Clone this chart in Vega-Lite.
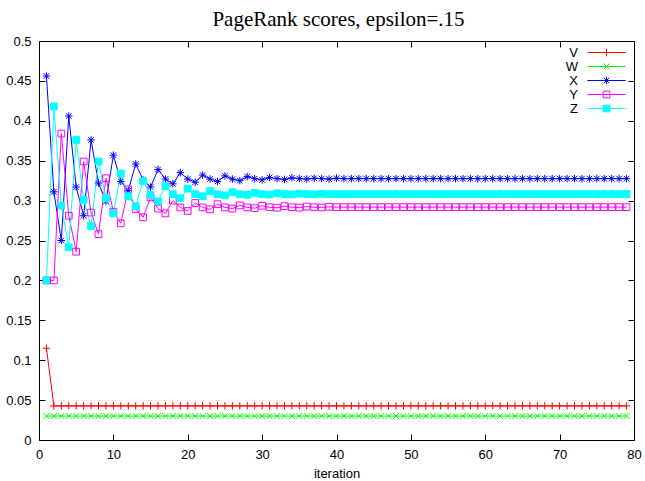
{
  "$schema": "https://vega.github.io/schema/vega-lite/v6.json",
  "width": 595,
  "height": 399,
  "autosize": {"type": "none"},
  "padding": {"left": 39, "top": 41, "right": 11, "bottom": 41},
  "background": "white",
  "title": {"text": "PageRank scores, epsilon=.15", "font": "Liberation Serif", "fontSize": 21, "fontWeight": "normal", "color": "black", "offset": 5, "dx": 2},
  "config": {
    "view": {"stroke": "black", "strokeWidth": 1},
    "axis": {"grid": false, "domain": false, "tickColor": "black", "tickWidth": 1, "labelColor": "black", "labelFont": "Liberation Sans", "labelFontSize": 13, "titleFont": "Liberation Sans", "titleFontSize": 13, "titleFontWeight": "normal", "titleColor": "black"}
  },
  "data": {"values": [
    {"i":1,"V":0.115,"W":0.03,"X":0.456,"Y":0.200,"Z":0.200},
    {"i":2,"V":0.0427,"W":0.03,"X":0.311,"Y":0.200,"Z":0.418},
    {"i":3,"V":0.0427,"W":0.03,"X":0.250,"Y":0.384,"Z":0.294},
    {"i":4,"V":0.0427,"W":0.03,"X":0.406,"Y":0.281,"Z":0.2415},
    {"i":5,"V":0.0427,"W":0.03,"X":0.317,"Y":0.236,"Z":0.376},
    {"i":6,"V":0.0427,"W":0.03,"X":0.281,"Y":0.349,"Z":0.301},
    {"i":7,"V":0.0427,"W":0.03,"X":0.376,"Y":0.285,"Z":0.268},
    {"i":8,"V":0.0427,"W":0.03,"X":0.322,"Y":0.258,"Z":0.349},
    {"i":9,"V":0.0427,"W":0.03,"X":0.299,"Y":0.328,"Z":0.303},
    {"i":10,"V":0.0427,"W":0.03,"X":0.357,"Y":0.286,"Z":0.284},
    {"i":11,"V":0.0427,"W":0.03,"X":0.324,"Y":0.2715,"Z":0.334},
    {"i":12,"V":0.0427,"W":0.03,"X":0.3125,"Y":0.314,"Z":0.3055},
    {"i":13,"V":0.0427,"W":0.03,"X":0.346,"Y":0.2895,"Z":0.293},
    {"i":14,"V":0.0427,"W":0.03,"X":0.326,"Y":0.279,"Z":0.3245},
    {"i":15,"V":0.0427,"W":0.03,"X":0.317,"Y":0.304,"Z":0.307},
    {"i":16,"V":0.0427,"W":0.03,"X":0.339,"Y":0.290,"Z":0.299},
    {"i":17,"V":0.0427,"W":0.03,"X":0.327,"Y":0.284,"Z":0.318},
    {"i":18,"V":0.0427,"W":0.03,"X":0.321,"Y":0.300,"Z":0.308},
    {"i":19,"V":0.0427,"W":0.03,"X":0.335,"Y":0.2915,"Z":0.303},
    {"i":20,"V":0.0427,"W":0.03,"X":0.327,"Y":0.287,"Z":0.315},
    {"i":21,"V":0.0427,"W":0.03,"X":0.323,"Y":0.297,"Z":0.308},
    {"i":22,"V":0.0427,"W":0.03,"X":0.332,"Y":0.2915,"Z":0.3055},
    {"i":23,"V":0.0427,"W":0.03,"X":0.327,"Y":0.289,"Z":0.312},
    {"i":24,"V":0.0427,"W":0.03,"X":0.324,"Y":0.2955,"Z":0.308},
    {"i":25,"V":0.0427,"W":0.03,"X":0.331,"Y":0.2915,"Z":0.3065},
    {"i":26,"V":0.0427,"W":0.03,"X":0.327,"Y":0.290,"Z":0.3105},
    {"i":27,"V":0.0427,"W":0.03,"X":0.325,"Y":0.294,"Z":0.308},
    {"i":28,"V":0.0427,"W":0.03,"X":0.330,"Y":0.2915,"Z":0.3072},
    {"i":29,"V":0.0427,"W":0.03,"X":0.3275,"Y":0.2905,"Z":0.3098},
    {"i":30,"V":0.0427,"W":0.03,"X":0.326,"Y":0.2935,"Z":0.308},
    {"i":31,"V":0.0427,"W":0.03,"X":0.329,"Y":0.2917,"Z":0.3075},
    {"i":32,"V":0.0427,"W":0.03,"X":0.3275,"Y":0.291,"Z":0.3092},
    {"i":33,"V":0.0427,"W":0.03,"X":0.3265,"Y":0.293,"Z":0.3082},
    {"i":34,"V":0.0427,"W":0.03,"X":0.3285,"Y":0.2917,"Z":0.3077},
    {"i":35,"V":0.0427,"W":0.03,"X":0.3275,"Y":0.2912,"Z":0.3088},
    {"i":36,"V":0.0427,"W":0.03,"X":0.327,"Y":0.2925,"Z":0.3082},
    {"i":37,"V":0.0427,"W":0.03,"X":0.328,"Y":0.2917,"Z":0.3079},
    {"i":38,"V":0.0427,"W":0.03,"X":0.3275,"Y":0.2914,"Z":0.3086},
    {"i":39,"V":0.0427,"W":0.03,"X":0.327,"Y":0.2922,"Z":0.3082},
    {"i":40,"V":0.0427,"W":0.03,"X":0.328,"Y":0.2918,"Z":0.3081},
    {"i":41,"V":0.0427,"W":0.03,"X":0.3275,"Y":0.2918,"Z":0.3082},
    {"i":42,"V":0.0427,"W":0.03,"X":0.3275,"Y":0.2918,"Z":0.3082},
    {"i":43,"V":0.0427,"W":0.03,"X":0.3275,"Y":0.2918,"Z":0.3082},
    {"i":44,"V":0.0427,"W":0.03,"X":0.3275,"Y":0.2918,"Z":0.3082},
    {"i":45,"V":0.0427,"W":0.03,"X":0.3275,"Y":0.2918,"Z":0.3082},
    {"i":46,"V":0.0427,"W":0.03,"X":0.3275,"Y":0.2918,"Z":0.3082},
    {"i":47,"V":0.0427,"W":0.03,"X":0.3275,"Y":0.2918,"Z":0.3082},
    {"i":48,"V":0.0427,"W":0.03,"X":0.3275,"Y":0.2918,"Z":0.3082},
    {"i":49,"V":0.0427,"W":0.03,"X":0.3275,"Y":0.2918,"Z":0.3082},
    {"i":50,"V":0.0427,"W":0.03,"X":0.3275,"Y":0.2918,"Z":0.3082},
    {"i":51,"V":0.0427,"W":0.03,"X":0.3275,"Y":0.2918,"Z":0.3082},
    {"i":52,"V":0.0427,"W":0.03,"X":0.3275,"Y":0.2918,"Z":0.3082},
    {"i":53,"V":0.0427,"W":0.03,"X":0.3275,"Y":0.2918,"Z":0.3082},
    {"i":54,"V":0.0427,"W":0.03,"X":0.3275,"Y":0.2918,"Z":0.3082},
    {"i":55,"V":0.0427,"W":0.03,"X":0.3275,"Y":0.2918,"Z":0.3082},
    {"i":56,"V":0.0427,"W":0.03,"X":0.3275,"Y":0.2918,"Z":0.3082},
    {"i":57,"V":0.0427,"W":0.03,"X":0.3275,"Y":0.2918,"Z":0.3082},
    {"i":58,"V":0.0427,"W":0.03,"X":0.3275,"Y":0.2918,"Z":0.3082},
    {"i":59,"V":0.0427,"W":0.03,"X":0.3275,"Y":0.2918,"Z":0.3082},
    {"i":60,"V":0.0427,"W":0.03,"X":0.3275,"Y":0.2918,"Z":0.3082},
    {"i":61,"V":0.0427,"W":0.03,"X":0.3275,"Y":0.2918,"Z":0.3082},
    {"i":62,"V":0.0427,"W":0.03,"X":0.3275,"Y":0.2918,"Z":0.3082},
    {"i":63,"V":0.0427,"W":0.03,"X":0.3275,"Y":0.2918,"Z":0.3082},
    {"i":64,"V":0.0427,"W":0.03,"X":0.3275,"Y":0.2918,"Z":0.3082},
    {"i":65,"V":0.0427,"W":0.03,"X":0.3275,"Y":0.2918,"Z":0.3082},
    {"i":66,"V":0.0427,"W":0.03,"X":0.3275,"Y":0.2918,"Z":0.3082},
    {"i":67,"V":0.0427,"W":0.03,"X":0.3275,"Y":0.2918,"Z":0.3082},
    {"i":68,"V":0.0427,"W":0.03,"X":0.3275,"Y":0.2918,"Z":0.3082},
    {"i":69,"V":0.0427,"W":0.03,"X":0.3275,"Y":0.2918,"Z":0.3082},
    {"i":70,"V":0.0427,"W":0.03,"X":0.3275,"Y":0.2918,"Z":0.3082},
    {"i":71,"V":0.0427,"W":0.03,"X":0.3275,"Y":0.2918,"Z":0.3082},
    {"i":72,"V":0.0427,"W":0.03,"X":0.3275,"Y":0.2918,"Z":0.3082},
    {"i":73,"V":0.0427,"W":0.03,"X":0.3275,"Y":0.2918,"Z":0.3082},
    {"i":74,"V":0.0427,"W":0.03,"X":0.3275,"Y":0.2918,"Z":0.3082},
    {"i":75,"V":0.0427,"W":0.03,"X":0.3275,"Y":0.2918,"Z":0.3082},
    {"i":76,"V":0.0427,"W":0.03,"X":0.3275,"Y":0.2918,"Z":0.3082},
    {"i":77,"V":0.0427,"W":0.03,"X":0.3275,"Y":0.2918,"Z":0.3082},
    {"i":78,"V":0.0427,"W":0.03,"X":0.3275,"Y":0.2918,"Z":0.3082},
    {"i":79,"V":0.0427,"W":0.03,"X":0.3275,"Y":0.2918,"Z":0.3082}
  ]},
  "transform": [{"fold": ["V", "W", "X", "Y", "Z"], "as": ["s", "v"]}],
  "resolve": {"axis": {"x": "independent", "y": "independent"}},
  "layer": [
    {
      "mark": {"type": "line", "strokeWidth": 1, "interpolate": "linear"},
      "encoding": {
        "x": {"field": "i", "type": "quantitative", "scale": {"domain": [0, 80], "nice": false, "zero": false},
              "axis": {"orient": "bottom", "title": "iteration", "values": [0,10,20,30,40,50,60,70,80], "tickSize": -6, "labelPadding": 14, "titlePadding": 6, "labelFlush": false}},
        "y": {"field": "v", "type": "quantitative", "scale": {"domain": [0, 0.5], "nice": false},
              "axis": {"orient": "left", "title": null, "values": [0,0.05,0.1,0.15,0.2,0.25,0.3,0.35,0.4,0.45,0.5], "format": "~g", "tickSize": -6, "labelPadding": 14, "labelFlush": false}},
        "stroke": {"field": "s", "type": "nominal", "scale": {"domain": ["V","W","X","Y","Z"], "range": ["#ff0000","#00ff00","#0000ff","#ff00ff","#00ffff"]},
                   "legend": {"orient": "none", "legendX": 561, "legendY": 5, "title": null, "padding": 0,
                             "labelFont": "Liberation Sans", "labelFontSize": 13, "labelColor": "black", "labelAlign": "right", "labelOffset": -35,
                             "symbolSize": 56, "rowPadding": -0.2, "symbolStrokeWidth": 1,
                             "encode": {"symbols": {"update": {
                               "shape": {"signal": "datum.value==='V' ? 'M-5.1,0L5.1,0M-1,0L1,0M0,-1L0,1' : datum.value==='W' ? 'M-5.1,0L5.1,0M-0.8,-0.8L0.8,0.8M-0.8,0.8L0.8,-0.8' : datum.value==='X' ? 'M-5.1,0L5.1,0M0,-1L0,1M-0.75,-0.75L0.75,0.75M-0.75,0.75L0.75,-0.75' : 'M-5.1,0L5.1,0M-0.9,-0.9L0.9,-0.9L0.9,0.9L-0.9,0.9Z'"},
                               "fill": {"signal": "datum.value==='Z' ? '#00ffff' : 'transparent'"},
                               "strokeWidth": {"value": 1},
                               "opacity": {"value": 1}
                             }}}}},
        "detail": {"field": "s"}
      }
    },
    {
      "mark": {"type": "point", "filled": true, "size": 56, "strokeWidth": 1, "opacity": 1},
      "encoding": {
        "x": {"field": "i", "type": "quantitative",
              "axis": {"orient": "top", "title": null, "labels": false, "values": [0,10,20,30,40,50,60,70,80], "tickSize": -6}},
        "y": {"field": "v", "type": "quantitative",
              "axis": {"orient": "right", "title": null, "labels": false, "values": [0,0.05,0.1,0.15,0.2,0.25,0.3,0.35,0.4,0.45,0.5], "tickSize": -6}},
        "stroke": {"field": "s", "type": "nominal"},
        "fill": {"condition": {"test": "datum.s === 'Z'", "value": "#00ffff"}, "value": "transparent"},
        "shape": {"field": "s", "type": "nominal",
                  "scale": {"range": ["M-1,0L1,0M0,-1L0,1", "M-0.8,-0.8L0.8,0.8M-0.8,0.8L0.8,-0.8", "M-1,0L1,0M0,-1L0,1M-0.75,-0.75L0.75,0.75M-0.75,0.75L0.75,-0.75", "M-0.9,-0.9L0.9,-0.9L0.9,0.9L-0.9,0.9Z", "M-0.9,-0.9L0.9,-0.9L0.9,0.9L-0.9,0.9Z"]},
                  "legend": null
        }
      }
    }
  ]
}
